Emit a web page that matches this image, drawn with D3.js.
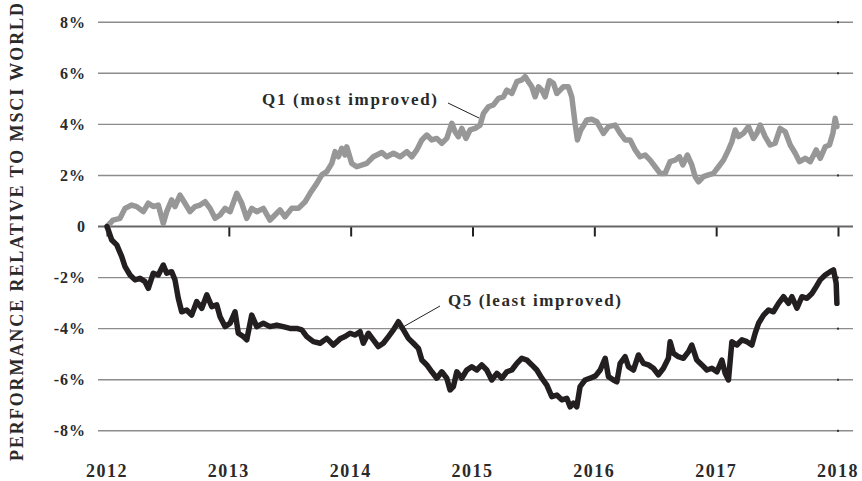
<!DOCTYPE html>
<html>
<head>
<meta charset="utf-8">
<script src="https://cdn.jsdelivr.net/npm/d3@7"></script>
<style>
  html, body { margin: 0; padding: 0; background: #fff; }
  svg { display: block; }
  text { font-family: "Liberation Serif", "Times New Roman", serif; font-weight: bold; fill: #2a2a2a; }
</style>
</head>
<body>
<svg id="chart" width="862" height="481"></svg>
<script>
// ---- data (decimal years, % relative to MSCI World) ----
const years = [2012, 2013, 2014, 2015, 2016, 2017, 2018];
const yTicks = [-8, -6, -4, -2, 0, 2, 4, 6, 8];
const yTickLabels = ["-8%", "-6%", "-4%", "-2%", "0", "2%", "4%", "6%", "8%"];
const seriesNames = ["Q1 (most improved)", "Q5 (least improved)"];
const yAxisTitle = "PERFORMANCE RELATIVE TO MSCI WORLD";

const q1Dates = [2012.000,2012.049,2012.107,2012.148,2012.203,2012.244,2012.298,2012.339,2012.380,2012.421,2012.462,2012.490,2012.531,2012.558,2012.599,2012.640,2012.681,2012.722,2012.764,2012.805,2012.846,2012.887,2012.928,2012.969,2013.010,2013.065,2013.106,2013.147,2013.188,2013.229,2013.283,2013.338,2013.379,2013.420,2013.461,2013.516,2013.571,2013.626,2013.667,2013.722,2013.763,2013.804,2013.845,2013.872,2013.899,2013.927,2013.954,2013.968,2014.009,2014.050,2014.132,2014.186,2014.255,2014.296,2014.351,2014.406,2014.461,2014.502,2014.543,2014.584,2014.625,2014.666,2014.707,2014.748,2014.789,2014.830,2014.857,2014.884,2014.912,2014.947,2014.980,2015.021,2015.062,2015.090,2015.131,2015.172,2015.213,2015.254,2015.282,2015.323,2015.364,2015.405,2015.432,2015.459,2015.487,2015.514,2015.541,2015.569,2015.596,2015.631,2015.664,2015.692,2015.719,2015.746,2015.787,2015.815,2015.842,2015.861,2015.889,2015.938,2015.979,2016.021,2016.075,2016.116,2016.171,2016.212,2016.253,2016.294,2016.335,2016.376,2016.417,2016.458,2016.499,2016.540,2016.581,2016.622,2016.663,2016.699,2016.727,2016.764,2016.800,2016.828,2016.855,2016.896,2016.937,2016.978,2017.019,2017.060,2017.101,2017.129,2017.156,2017.183,2017.224,2017.265,2017.306,2017.334,2017.361,2017.402,2017.443,2017.484,2017.525,2017.567,2017.608,2017.649,2017.684,2017.731,2017.772,2017.821,2017.854,2017.895,2017.930,2017.958,2017.977,2017.991];
const q1Values = [0.00,0.25,0.32,0.71,0.84,0.78,0.58,0.91,0.78,0.84,0.12,0.58,1.04,0.78,1.23,0.91,0.58,0.78,0.84,0.97,0.71,0.32,0.45,0.71,0.58,1.30,0.91,0.32,0.71,0.58,0.71,0.25,0.45,0.65,0.38,0.71,0.71,0.97,1.30,1.69,2.02,2.15,2.47,2.93,2.73,3.06,2.80,3.12,2.47,2.34,2.47,2.73,2.90,2.73,2.87,2.73,2.93,2.73,3.00,3.39,3.58,3.39,3.45,3.26,3.45,4.04,3.71,3.52,3.84,3.45,3.78,3.84,3.97,4.43,4.69,4.76,5.02,5.08,5.34,5.21,5.67,5.74,5.87,5.67,5.47,5.08,5.47,5.34,5.08,5.71,5.61,5.21,5.34,5.47,5.47,5.08,4.04,3.39,3.78,4.17,4.20,4.10,3.65,3.91,3.97,3.65,3.39,3.39,3.00,2.73,2.80,2.60,2.34,2.08,2.08,2.54,2.60,2.73,2.41,2.80,2.41,1.95,1.75,1.95,2.02,2.08,2.34,2.60,3.00,3.32,3.78,3.52,3.65,3.91,3.45,3.65,3.97,3.52,3.19,3.26,3.84,3.71,3.19,2.87,2.54,2.67,2.54,3.00,2.67,3.12,3.19,3.65,4.24,3.91];

const q5Dates = [2012.000,2012.011,2012.039,2012.080,2012.121,2012.148,2012.189,2012.230,2012.271,2012.312,2012.339,2012.380,2012.421,2012.462,2012.490,2012.531,2012.558,2012.585,2012.613,2012.654,2012.695,2012.736,2012.778,2012.819,2012.860,2012.901,2012.928,2012.969,2013.010,2013.051,2013.078,2013.119,2013.147,2013.188,2013.229,2013.283,2013.338,2013.393,2013.447,2013.502,2013.557,2013.599,2013.640,2013.694,2013.749,2013.804,2013.858,2013.913,2013.954,2013.995,2014.036,2014.077,2014.104,2014.145,2014.186,2014.227,2014.268,2014.310,2014.351,2014.392,2014.433,2014.474,2014.515,2014.556,2014.584,2014.625,2014.666,2014.707,2014.748,2014.789,2014.816,2014.843,2014.871,2014.912,2014.953,2014.994,2015.035,2015.076,2015.117,2015.158,2015.200,2015.241,2015.282,2015.323,2015.364,2015.405,2015.446,2015.487,2015.528,2015.569,2015.610,2015.651,2015.692,2015.733,2015.774,2015.801,2015.828,2015.856,2015.883,2015.924,2015.966,2016.010,2016.048,2016.089,2016.116,2016.157,2016.185,2016.212,2016.253,2016.280,2016.321,2016.362,2016.403,2016.444,2016.485,2016.526,2016.567,2016.608,2016.622,2016.649,2016.690,2016.731,2016.773,2016.800,2016.841,2016.883,2016.924,2016.965,2017.006,2017.047,2017.074,2017.101,2017.129,2017.170,2017.211,2017.252,2017.293,2017.320,2017.348,2017.389,2017.430,2017.470,2017.512,2017.553,2017.594,2017.622,2017.663,2017.704,2017.745,2017.786,2017.813,2017.854,2017.895,2017.936,2017.963,2017.985,2017.991];
const q5Values = [0.00,-0.14,-0.53,-0.72,-1.18,-1.57,-1.90,-2.09,-2.03,-2.16,-2.42,-1.83,-1.90,-1.51,-1.83,-1.77,-2.09,-2.81,-3.34,-3.27,-3.47,-2.94,-3.20,-2.68,-3.14,-3.07,-3.53,-3.92,-3.79,-3.34,-4.18,-4.31,-4.44,-3.47,-3.92,-3.79,-3.92,-3.86,-3.92,-3.99,-3.99,-4.05,-4.31,-4.51,-4.57,-4.38,-4.64,-4.40,-4.31,-4.18,-4.25,-4.12,-4.57,-4.18,-4.44,-4.70,-4.57,-4.31,-4.05,-3.73,-4.05,-4.38,-4.57,-4.77,-5.23,-5.42,-5.69,-5.94,-5.69,-5.94,-6.40,-6.27,-5.69,-5.94,-5.62,-5.49,-5.62,-5.42,-5.62,-6.01,-5.75,-5.94,-5.69,-5.62,-5.36,-5.16,-5.23,-5.42,-5.62,-5.94,-6.21,-6.66,-6.60,-6.79,-6.73,-7.06,-6.92,-7.06,-6.27,-6.01,-5.94,-5.85,-5.62,-5.16,-5.88,-6.01,-6.08,-5.36,-5.10,-5.49,-5.62,-5.03,-5.36,-5.42,-5.55,-5.81,-5.55,-5.16,-4.51,-4.96,-5.10,-5.16,-4.90,-4.64,-5.23,-5.42,-5.62,-5.55,-5.69,-5.23,-5.75,-6.01,-4.51,-4.64,-4.44,-4.51,-4.64,-4.18,-3.79,-3.47,-3.27,-3.34,-3.01,-2.75,-3.01,-2.75,-3.20,-2.75,-2.81,-2.62,-2.42,-2.09,-1.90,-1.77,-1.70,-2.22,-3.01];

// ---- layout ----
const svg = d3.select("#chart");
const x = d3.scaleLinear().domain([2012, 2018]).range([107, 838]);
const y = d3.scaleLinear().domain([-8, 8]).range([430.8, 22.2]);
const gridX0 = 98, gridX1 = 853;

// gridlines
svg.append("g").selectAll("line").data(yTicks.filter(d => d !== 0)).join("line")
  .attr("x1", gridX0).attr("x2", gridX1)
  .attr("y1", d => y(d)).attr("y2", d => y(d))
  .attr("stroke", "#8c8c8c").attr("stroke-width", 1.4);

// tiny marks at right end of gridlines
svg.append("g").selectAll("rect").data(yTicks.filter(d => d !== 0)).join("rect")
  .attr("x", x(2018) - 1).attr("y", d => y(d) - 1)
  .attr("width", 2).attr("height", 2).attr("fill", "#333");

// zero axis with year ticks
const xAxis = d3.axisBottom(x).tickValues(years).tickSize(10).tickFormat("");
const gx = svg.append("g").attr("transform", `translate(0,${y(0)})`).call(xAxis);
gx.select(".domain").remove();
gx.selectAll(".tick line").attr("stroke", "#222").attr("stroke-width", 2);
svg.append("line")
  .attr("x1", gridX0).attr("x2", gridX1)
  .attr("y1", y(0)).attr("y2", y(0))
  .attr("stroke", "#666").attr("stroke-width", 2);

// year labels
svg.append("g").selectAll("text").data(years).join("text")
  .attr("x", d => x(d)).attr("y", 477)
  .attr("text-anchor", "middle")
  .style("font-size", "18px").style("letter-spacing", "1.5px")
  .text(d => d);

// y labels
svg.append("g").selectAll("text").data(yTicks).join("text")
  .attr("x", 86).attr("y", d => y(d))
  .attr("dy", "0.35em")
  .attr("text-anchor", "end")
  .style("font-size", "16px").style("letter-spacing", "1px")
  .text((d, i) => yTickLabels[i]);

// y axis title
svg.append("text")
  .attr("transform", "translate(23,232) rotate(-90)")
  .attr("text-anchor", "middle")
  .attr("textLength", 458).attr("lengthAdjust", "spacing")
  .style("font-size", "18px")
  .text(yAxisTitle);

// lines
const line = d3.line().x(d => x(d[0])).y(d => y(d[1]));
const q1 = q1Dates.map((d, i) => [d, q1Values[i]]);
const q5 = q5Dates.map((d, i) => [d, q5Values[i]]);

svg.append("path").datum(q1).attr("d", line)
  .attr("fill", "none").attr("stroke", "#979797").attr("stroke-width", 5.5)
  .attr("stroke-linejoin", "round").attr("stroke-linecap", "round");
svg.append("path").datum(q5).attr("d", line)
  .attr("fill", "none").attr("stroke", "#231f20").attr("stroke-width", 5.5)
  .attr("stroke-linejoin", "round").attr("stroke-linecap", "round");

// annotations
svg.append("text").attr("x", 262).attr("y", 105)
  .attr("textLength", 175).attr("lengthAdjust", "spacing")
  .style("font-size", "17px").text(seriesNames[0]);
svg.append("line").attr("x1", 448).attr("y1", 103).attr("x2", 479).attr("y2", 118)
  .attr("stroke", "#222").attr("stroke-width", 1);

svg.append("text").attr("x", 448).attr("y", 306)
  .attr("textLength", 173).attr("lengthAdjust", "spacing")
  .style("font-size", "17px").text(seriesNames[1]);
svg.append("line").attr("x1", 440).attr("y1", 306).attr("x2", 403).attr("y2", 327)
  .attr("stroke", "#222").attr("stroke-width", 1);
</script>
</body>
</html>
